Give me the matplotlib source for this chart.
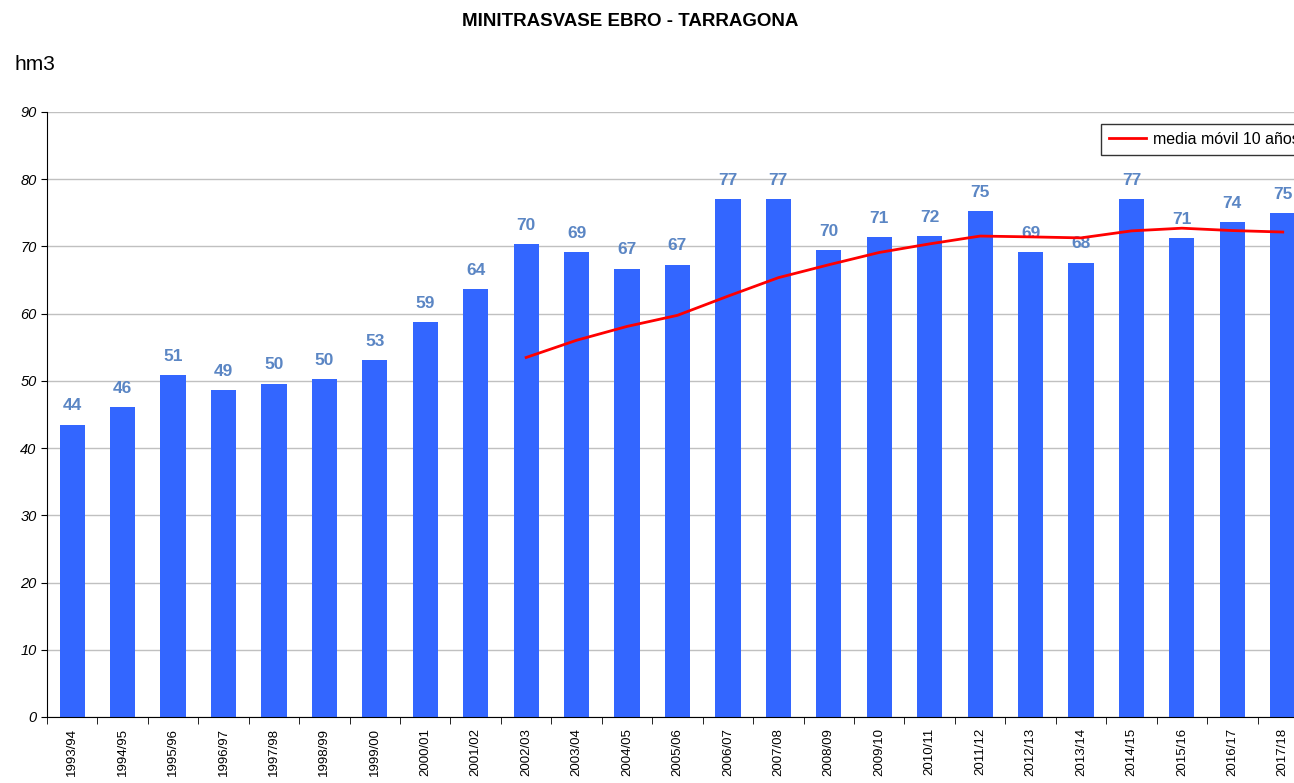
import matplotlib.pyplot as plt
import numpy as np
import pandas as pd

plt.rcParams['font.family'] = ['Liberation Sans', 'DejaVu Sans']

campanas = ['1993/94', '1994/95', '1995/96', '1996/97', '1997/98', '1998/99',
            '1999/00', '2000/01', '2001/02', '2002/03', '2003/04', '2004/05',
            '2005/06', '2006/07', '2007/08', '2008/09', '2009/10', '2010/11',
            '2011/12', '2012/13', '2013/14', '2014/15', '2015/16', '2016/17',
            '2017/18']
volumen = [43.5, 46.1, 50.8, 48.6, 49.6, 50.3, 53.1, 58.8, 63.7, 70.3,
           69.1, 66.7, 67.3, 77.1, 77.1, 69.5, 71.4, 71.6, 75.3, 69.1,
           67.6, 77.1, 71.3, 73.6, 74.9]

# media movil de 10 campañas
media = pd.Series(volumen).rolling(10).mean()

fig = plt.figure(figsize=(12.94, 7.83), dpi=100)
ax = fig.add_axes([0.0363, 0.0843, 0.9745, 0.7727])

x = np.arange(len(campanas))
bars = ax.bar(x, volumen, width=0.5, color='#3366FF', zorder=2)
ax.bar_label(bars, fmt='%.0f', padding=8, color='#5B86C4',
             fontsize=12.5, fontweight='bold')
ax.plot(x, media, color='#FF0000', lw=2, zorder=3, label='media móvil 10 años')

ax.set_xlim(-0.5, len(campanas) - 0.5)
ax.set_ylim(0, 90)
ax.set_yticks(range(0, 91, 10))
ax.set_yticklabels([str(v) for v in range(0, 91, 10)], fontstyle='italic',
                   fontsize=10.5)
ax.yaxis.grid(True, color='#C0C0C0', lw=1, zorder=0)
ax.set_axisbelow(True)

# ticks de categoria entre barras, como en Excel
ax.set_xticks(x)
ax.set_xticklabels(campanas, rotation=90, fontsize=9.5)
ax.tick_params(axis='x', which='major', length=0, pad=8)
ax.set_xticks(np.arange(-0.5, len(campanas), 1), minor=True)
ax.tick_params(axis='x', which='minor', length=5, direction='out')
ax.tick_params(axis='y', length=4, direction='out')

for s in ['top', 'right']:
    ax.spines[s].set_visible(False)
ax.spines['left'].set_color('black')
ax.spines['bottom'].set_color('black')

fig.text(0.487, 0.972, 'MINITRASVASE EBRO - TARRAGONA', ha='center',
         va='center', fontsize=13.5, fontweight='bold')
fig.text(0.011, 0.918, 'hm3', ha='left', va='center', fontsize=15)

leg = fig.legend(loc='upper left', bbox_to_anchor=(0.845, 0.852),
                 fontsize=11.5, frameon=True, fancybox=False,
                 handlelength=2.3, handletextpad=0.4, borderpad=0.5)
leg.get_frame().set_edgecolor('black')
leg.get_frame().set_linewidth(1)

plt.savefig('out.png', dpi=100)
